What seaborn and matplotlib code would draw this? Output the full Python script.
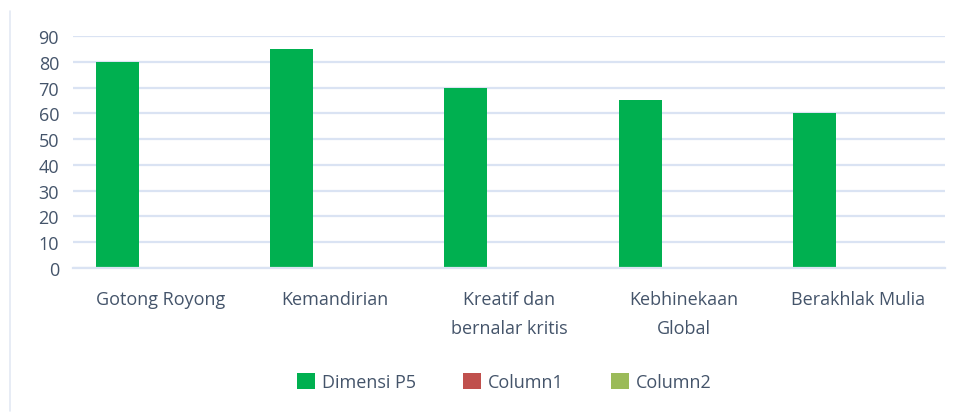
import matplotlib
matplotlib.use("Agg")
import matplotlib.pyplot as plt
from matplotlib.patches import Patch
from matplotlib.lines import Line2D
import seaborn as sns
import pandas as pd

categories = ["Gotong Royong", "Kemandirian", "Kreatif dan\nbernalar kritis",
              "Kebhinekaan\nGlobal", "Berakhlak Mulia"]
series_names = ["Dimensi P5", "Column1", "Column2"]
dimensi_p5 = [80, 85, 70, 65, 60]
column1 = [0, 0, 0, 0, 0]
column2 = [0, 0, 0, 0, 0]
y_ticks = [0, 10, 20, 30, 40, 50, 60, 70, 80, 90]

colors = ["#00B050", "#C0504D", "#9BBB59"]
text_color = "#44546A"
grid_color = "#DAE3F3"

rows = []
for name, vals in zip(series_names, [dimensi_p5, column1, column2]):
    for c, v in zip(categories, vals):
        rows.append({"Kategori": c, "Seri": name, "Nilai": v})
df = pd.DataFrame(rows)

sns.set_theme(style="white")
plt.rcParams["font.family"] = ["Open Sans", "DejaVu Sans"]

fig = plt.figure(figsize=(9.57, 4.14), dpi=100)
ax = fig.add_axes([73 / 957, 1 - 269 / 414, (945 - 73) / 957, (269 - 37) / 414])

sns.barplot(data=df, x="Kategori", y="Nilai", hue="Seri", hue_order=series_names,
            order=categories, palette=colors, width=0.74, gap=0, saturation=1,
            legend=False, ax=ax, edgecolor="none", linewidth=0)

ax.set_ylim(0, 90)
ax.set_xlim(-0.5, len(categories) - 0.5)
ax.set_yticks(y_ticks)
ax.set_yticklabels([str(t) for t in y_ticks])
ax.yaxis.grid(True, color=grid_color, linewidth=1.6)
ax.set_axisbelow(True)
for s in ["top", "right", "left"]:
    ax.spines[s].set_visible(False)
ax.spines["bottom"].set_color(grid_color)
ax.spines["bottom"].set_linewidth(1.6)
ax.set_xlabel("")
ax.set_ylabel("")
ax.tick_params(axis="y", length=0, pad=10, labelsize=13, labelcolor=text_color)
ax.tick_params(axis="x", length=0, pad=16, labelsize=13, labelcolor=text_color)
for lbl in ax.get_xticklabels():
    lbl.set_linespacing(1.75)
    lbl.set_verticalalignment("top")

handles = [Patch(facecolor=c, edgecolor="none") for c in colors]
fig.legend(handles, series_names, loc="center", bbox_to_anchor=(0.527, 1 - 383 / 414),
           ncol=3, frameon=False, fontsize=13, handlelength=1.0, handleheight=1.0,
           handletextpad=0.4, columnspacing=2.6, labelcolor=text_color)

fig.add_artist(Line2D([10 / 957, 10 / 957], [1 - 412 / 414, 1 - 12 / 414],
                      color="#E3E9F4", linewidth=1.2, transform=fig.transFigure))

fig.savefig("out.png", dpi=100, facecolor="white")
